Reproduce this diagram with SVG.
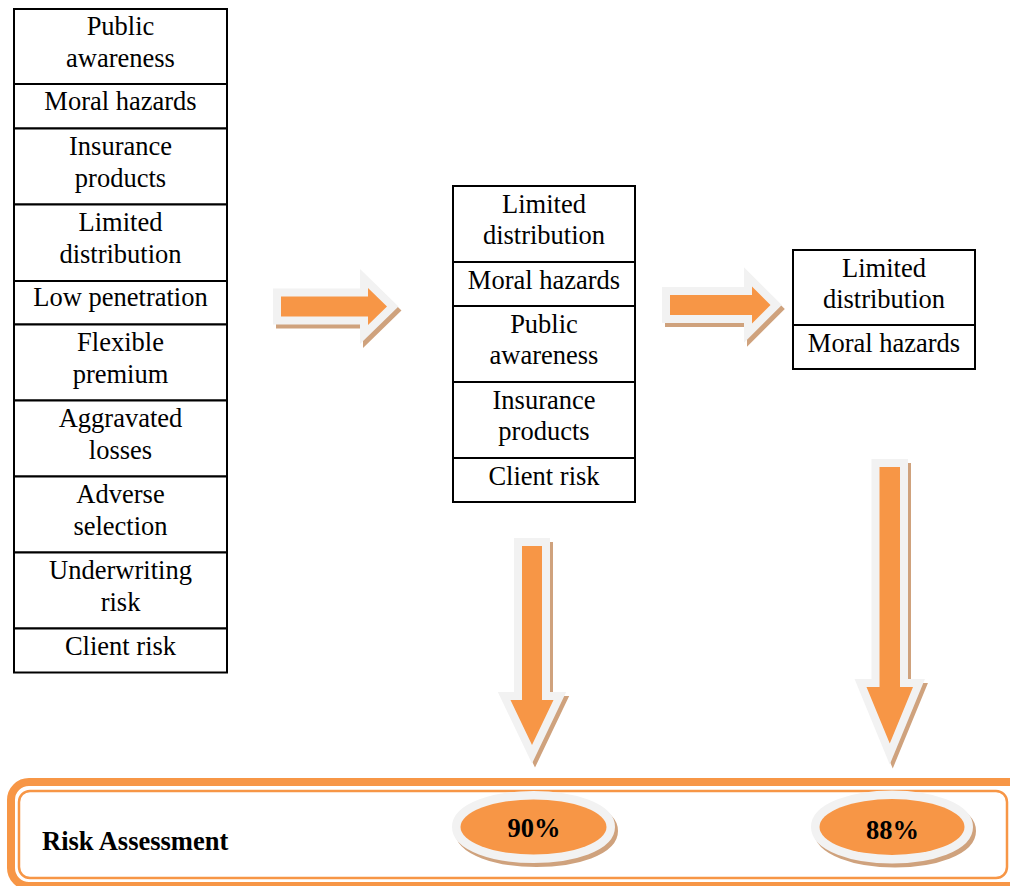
<svg xmlns="http://www.w3.org/2000/svg" width="1010" height="886" viewBox="0 0 1010 886">
  <style>
    .cell { fill: #ffffff; stroke: #000000; stroke-width: 2; }
    .t { font-family: "Liberation Serif", "Times New Roman", serif; font-size: 26.5px; fill: #000000; text-anchor: middle; }
    .b { font-family: "Liberation Serif", "Times New Roman", serif; font-size: 26.5px; font-weight: bold; fill: #000000; }
    .shadow { fill: #cfa27d; stroke: #cfa27d; stroke-width: 16; stroke-linejoin: miter; }
    .arrow { fill: #f79646; stroke: #f2f2f2; stroke-width: 16; stroke-linejoin: miter; paint-order: stroke; }
    .oval-shadow { fill: #cfa27d; stroke: #cfa27d; stroke-width: 17; }
    .oval { fill: #f79646; stroke: #f2f2f2; stroke-width: 17; paint-order: stroke; }
  </style>
  <rect width="1010" height="886" fill="#ffffff"/>

  <!-- first column: all risk factors -->
  <g id="factors-all">
    <g id="a1"><rect class="cell" x="14" y="9" width="213" height="75"/><text class="t" x="120.5" y="35">Public</text><text class="t" x="120.5" y="66.5">awareness</text></g>
    <g id="a2"><rect class="cell" x="14" y="84" width="213" height="44.5"/><text class="t" x="120.5" y="110">Moral hazards</text></g>
    <g id="a3"><rect class="cell" x="14" y="128.5" width="213" height="76"/><text class="t" x="120.5" y="155">Insurance</text><text class="t" x="120.5" y="186.5">products</text></g>
    <g id="a4"><rect class="cell" x="14" y="204.5" width="213" height="76.5"/><text class="t" x="120.5" y="231">Limited</text><text class="t" x="120.5" y="262.5">distribution</text></g>
    <g id="a5"><rect class="cell" x="14" y="281" width="213" height="43.5"/><text class="t" x="120.5" y="306">Low penetration</text></g>
    <g id="a6"><rect class="cell" x="14" y="324.5" width="213" height="76"/><text class="t" x="120.5" y="351">Flexible</text><text class="t" x="120.5" y="382.5">premium</text></g>
    <g id="a7"><rect class="cell" x="14" y="400.5" width="213" height="76"/><text class="t" x="120.5" y="427">Aggravated</text><text class="t" x="120.5" y="458.5">losses</text></g>
    <g id="a8"><rect class="cell" x="14" y="476.5" width="213" height="76"/><text class="t" x="120.5" y="503">Adverse</text><text class="t" x="120.5" y="534.5">selection</text></g>
    <g id="a9"><rect class="cell" x="14" y="552.5" width="213" height="76"/><text class="t" x="120.5" y="579">Underwriting</text><text class="t" x="120.5" y="610.5">risk</text></g>
    <g id="a10"><rect class="cell" x="14" y="628.5" width="213" height="44"/><text class="t" x="120.5" y="655">Client risk</text></g>
  </g>

  <!-- second column: reduced set -->
  <g id="factors-mid">
    <g id="m1"><rect class="cell" x="453" y="186" width="182" height="76"/><text class="t" x="544" y="212.5">Limited</text><text class="t" x="544" y="244">distribution</text></g>
    <g id="m2"><rect class="cell" x="453" y="262" width="182" height="44"/><text class="t" x="544" y="288.5">Moral hazards</text></g>
    <g id="m3"><rect class="cell" x="453" y="306" width="182" height="76"/><text class="t" x="544" y="332.5">Public</text><text class="t" x="544" y="364">awareness</text></g>
    <g id="m4"><rect class="cell" x="453" y="382" width="182" height="76"/><text class="t" x="544" y="408.5">Insurance</text><text class="t" x="544" y="440">products</text></g>
    <g id="m5"><rect class="cell" x="453" y="458" width="182" height="44"/><text class="t" x="544" y="484.5">Client risk</text></g>
  </g>

  <!-- third column: key factors -->
  <g id="factors-key">
    <g id="k1"><rect class="cell" x="793" y="250" width="182" height="75"/><text class="t" x="884" y="276.5">Limited</text><text class="t" x="884" y="308">distribution</text></g>
    <g id="k2"><rect class="cell" x="793" y="325" width="182" height="44"/><text class="t" x="884" y="352">Moral hazards</text></g>
  </g>

  <!-- block arrows -->
  <g id="connectors">
    <g transform="translate(3,4)">
      <path class="shadow" d="M281,296.5 H368 V288 L387,306.5 L368,325 V316.5 H281 Z"/>
      <path class="shadow" d="M670,295 H752 V286.5 L770.5,305 L752,323.5 V315 H670 Z"/>
      <path class="shadow" d="M522,546 H542 V700 H553.5 L532,745 L510.5,700 H522 Z"/>
      <path class="shadow" d="M879.5,467 H900 V687 H913 L889.75,743.5 L866.5,687 H879.5 Z"/>
    </g>
    <path class="arrow" d="M281,296.5 H368 V288 L387,306.5 L368,325 V316.5 H281 Z"/>
    <path class="arrow" d="M670,295 H752 V286.5 L770.5,305 L752,323.5 V315 H670 Z"/>
    <path class="arrow" d="M522,546 H542 V700 H553.5 L532,745 L510.5,700 H522 Z"/>
    <path class="arrow" d="M879.5,467 H900 V687 H913 L889.75,743.5 L866.5,687 H879.5 Z"/>
  </g>

  <!-- assessment panel with double border -->
  <g id="risk-assessment">
    <rect x="11" y="782" width="1025" height="104" rx="18" ry="18" fill="none" stroke="#f79646" stroke-width="8"/>
    <rect x="19" y="791" width="988" height="87" rx="11" ry="11" fill="none" stroke="#f79646" stroke-width="2.5"/>
    <text class="b" x="42" y="850">Risk Assessment</text>
  </g>

  <g id="score-90">
    <ellipse class="oval-shadow" cx="536.5" cy="831" rx="73" ry="27.5"/>
    <ellipse class="oval" cx="533.5" cy="827" rx="73" ry="27.5"/>
    <text class="b" x="534" y="837" text-anchor="middle">90%</text>
  </g>

  <g id="score-88">
    <ellipse class="oval-shadow" cx="895" cy="831" rx="72.5" ry="28"/>
    <ellipse class="oval" cx="892" cy="827" rx="72.5" ry="28"/>
    <text class="b" x="892.5" y="839" text-anchor="middle">88%</text>
  </g>
</svg>
